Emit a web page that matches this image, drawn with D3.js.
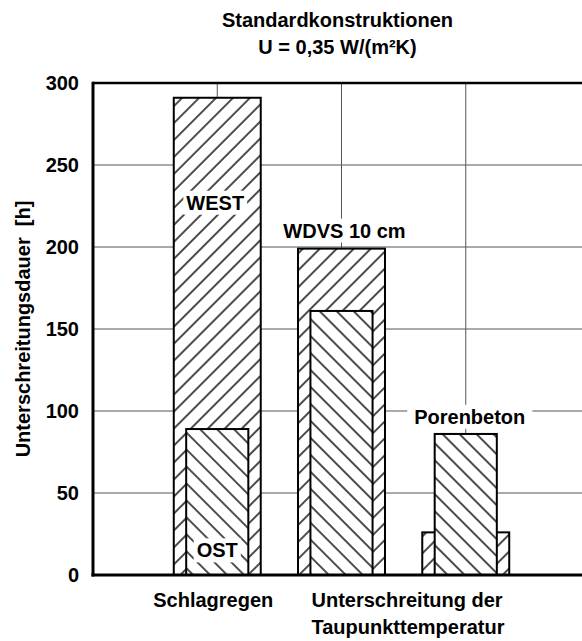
<!DOCTYPE html>
<html><head><meta charset="utf-8">
<script src="https://cdn.jsdelivr.net/npm/d3@7"></script>
<style>
html,body{margin:0;padding:0;background:#fff;}
text{font-family:"Liberation Sans",Arial,sans-serif;font-weight:bold;fill:#000;}
</style></head>
<body>
<svg id="chart" width="582" height="641"></svg>
<script>
// ---- data ----
const groups = ["Schlagregen", "WDVS 10 cm", "Porenbeton"];
const outerValues = [291, 199, 26];   // "/" hatched bars (WEST, WDVS outer, Porenbeton low)
const innerValues = [89, 161, 86];    // "\" hatched bars (OST, WDVS inner, Porenbeton)
const yTicks = [0, 50, 100, 150, 200, 250, 300];
const xGridAt = [1, 2, 3];
const titleLines = ["Standardkonstruktionen", "U = 0,35 W/(m²K)"];
const yTitle = "Unterschreitungsdauer  [h]";
const xCatLabels = [["Schlagregen"], ["Unterschreitung der", "Taupunkttemperatur"]];

const svg = d3.select("#chart");
const FS = 20;

const x = d3.scaleLinear().domain([0, 4]).range([93, 590]);
const y = d3.scaleLinear().domain([0, 300]).range([575, 83]);

// patterns
const defs = svg.append("defs");
function hatch(id, angle) {
  const p = defs.append("pattern").attr("id", id)
    .attr("patternUnits", "userSpaceOnUse")
    .attr("width", 12).attr("height", 12)
    .attr("patternTransform", `rotate(${angle})`);
  p.append("rect").attr("width", 12).attr("height", 12).attr("fill", "#fff");
  p.append("line").attr("x1", 6).attr("x2", 6).attr("y1", -2).attr("y2", 14)
    .attr("stroke", "#000").attr("stroke-width", 1.4);
}
hatch("fwd", 45);
hatch("back", -45);

// gridlines
const grid = svg.append("g");
grid.selectAll("line.h").data(yTicks.filter(t => t > 0 && t < 300)).join("line")
  .attr("x1", x(0)).attr("x2", 582).attr("y1", d => y(d)).attr("y2", d => y(d))
  .attr("stroke", "#555").attr("stroke-width", 1);
grid.selectAll("line.v").data(xGridAt).join("line")
  .attr("x1", d => x(d)).attr("x2", d => x(d)).attr("y1", y(300)).attr("y2", y(0))
  .attr("stroke", "#555").attr("stroke-width", 1);

// bars
const bars = svg.append("g");
const outerW = 0.7, innerW = 0.5;
bars.selectAll("rect.outer").data(outerValues).join("rect")
  .attr("x", (d, i) => x(i + 1 - outerW / 2))
  .attr("width", x(outerW) - x(0))
  .attr("y", d => y(d)).attr("height", d => y(0) - y(d))
  .attr("fill", "url(#fwd)").attr("stroke", "#000").attr("stroke-width", 2);
bars.selectAll("rect.inner").data(innerValues).join("rect")
  .attr("x", (d, i) => x(i + 1 - innerW / 2))
  .attr("width", x(innerW) - x(0))
  .attr("y", d => y(d)).attr("height", d => y(0) - y(d))
  .attr("fill", "url(#back)").attr("stroke", "#000").attr("stroke-width", 2);

// labels with white boxes
function boxLabel(txt, cx, cy, padX, padY) {
  const g = svg.append("g");
  const r = g.append("rect").attr("fill", "#fff");
  const t = g.append("text").attr("x", cx).attr("y", cy).attr("dy", "0.35em")
    .attr("text-anchor", "middle").attr("font-size", FS).text(txt);
  const b = t.node().getBBox();
  r.attr("x", b.x - padX).attr("y", b.y - padY)
   .attr("width", b.width + 2 * padX).attr("height", b.height + 2 * padY);
}
boxLabel("WEST", x(1) - 2, y(227), 3, 1);
boxLabel("OST", x(1), y(15), 3, 1);
boxLabel(groups[1], x(2) + 3, y(210), 4, 1);
boxLabel(groups[2], x(3) + 4, y(96.5), 7, 1);

// axes frame
svg.append("line").attr("x1", x(0)).attr("x2", 582).attr("y1", y(300)).attr("y2", y(300))
  .attr("stroke", "#000").attr("stroke-width", 2.5);
svg.append("line").attr("x1", x(0)).attr("x2", x(0)).attr("y1", y(300) - 1.2).attr("y2", y(0) + 1.5)
  .attr("stroke", "#000").attr("stroke-width", 3);
svg.append("line").attr("x1", x(0) - 1.5).attr("x2", 582).attr("y1", y(0)).attr("y2", y(0))
  .attr("stroke", "#000").attr("stroke-width", 3);

// y tick labels
svg.append("g").selectAll("text").data(yTicks).join("text")
  .attr("x", 79).attr("y", d => y(d)).attr("dy", "0.35em")
  .attr("text-anchor", "end").attr("font-size", FS).text(d => d);

// y title
svg.append("text").attr("transform", "translate(30,329) rotate(-90)")
  .attr("text-anchor", "middle").attr("font-size", FS).style("white-space", "pre")
  .attr("xml:space", "preserve").text(yTitle);

// title (centered over the plot area)
svg.append("g").selectAll("text").data(titleLines).join("text")
  .attr("x", (x(0) + 582) / 2).attr("y", (d, i) => 27 + i * 27)
  .attr("text-anchor", "middle").attr("font-size", FS).text(d => d);

// x category labels
svg.append("text").attr("x", x(1) - 4).attr("y", 607)
  .attr("text-anchor", "middle").attr("font-size", FS).text(xCatLabels[0][0]);
svg.append("g").selectAll("text").data(xCatLabels[1]).join("text")
  .attr("x", x(2) - 30).attr("y", (d, i) => 607 + i * 27)
  .attr("text-anchor", "start").attr("font-size", FS).text(d => d);
</script>
</body></html>
